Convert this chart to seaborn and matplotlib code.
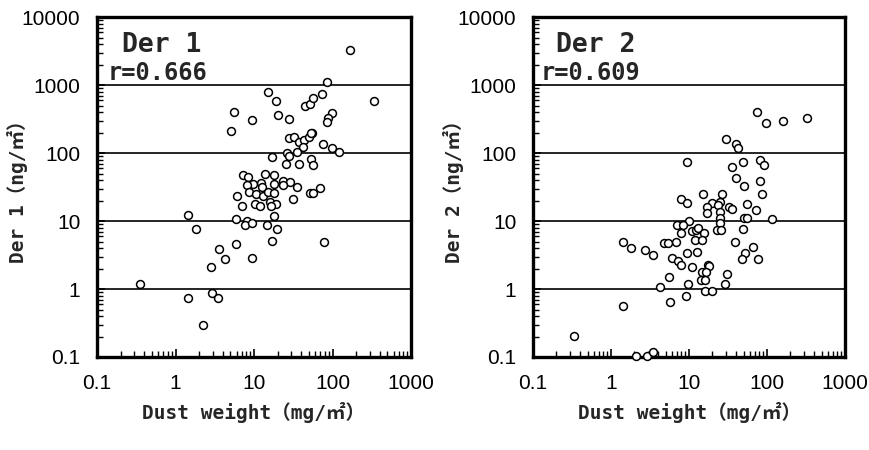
import numpy as np
import pandas as pd
import matplotlib
matplotlib.use("Agg")
import matplotlib.pyplot as plt
import seaborn as sns
from matplotlib.ticker import LogLocator, FixedLocator, FixedFormatter, NullFormatter

# ---- data ----
der1_dust = [15.2, 18.9, 5.56, 9.35, 20.4, 27.7, 5.14, 44.7, 51.6, 56, 167, 85.9, 74.1, 338,
             97.7, 88.3, 84.4, 54.3, 75, 97.7, 122, 69.3, 52, 56, 78,
             27.9, 32.4, 37.8, 43.4, 50.7, 53, 42.5, 35, 26.1, 27.9, 17.2, 53, 25.5, 37.8, 57,
             7.31, 8.3, 13.8, 18, 23.2, 28.8, 35.7, 23.2, 18, 12.3, 12.5, 9.8, 8.22, 8.7, 6.03,
             10.5, 12.9, 15.2, 18, 16, 19, 16.7, 10.2, 11.9, 6.96, 18.1, 31.7, 1.46, 1.82, 5.9,
             8.22, 7.6, 9.44, 14.5, 19.6, 17.1, 5.9, 3.61, 4.31, 9.44, 2.81, 0.353, 1.46, 2.92,
             3.47, 2.26]
der1_conc = [789, 587, 408, 305, 365, 318, 214, 500, 525, 643, 3311, 1119, 745, 587,
             386, 333, 285, 196, 136, 118, 105, 30.3, 25.6, 25.6, 4.95,
             169, 175, 148, 156, 171, 196, 124, 105, 99.6, 90.8, 88.7, 82, 69.2, 69.2, 66,
             47.6, 45, 49.3, 47.6, 39.3, 37.9, 32.1, 34, 35.1, 36, 32.1, 35.1, 34, 26.5, 23.6,
             25, 23.4, 27, 25.6, 19.2, 17.6, 16.6, 17.6, 16.8, 16.8, 11.9, 21.3, 12.2, 7.55, 10.6,
             10.1, 8.7, 9.25, 8.7, 7.55, 5.02, 4.58, 3.86, 2.75, 2.88, 2.12, 1.17, 0.75, 0.87,
             0.75, 0.30]

der2_dust = [29.8, 40.1, 42.9, 9.33, 48.8, 35.2, 40.1,
             75.2, 97, 162, 329,
             81.3, 91.6, 81.3, 50.7, 85.5, 55, 71.6, 50.7, 55.9, 115, 49.7, 65.6, 52.3, 47.4, 77.3,
             15, 26.2, 7.84, 9.33, 19.5, 24.9, 23.8, 16.9, 17.2, 32.9, 35.6, 24.9, 24.9, 24.9,
             23.1, 25.7, 10.1, 6.95, 8.45, 7.84, 11, 12.2, 13.2, 15.6, 11.9, 14.6, 6.75, 4.82,
             5.33, 38.9, 1.44, 1.79, 2.73, 3.43, 9.33, 12.6, 6, 7.3, 7.9, 10.9, 17.7, 18.2,
             14.6, 16.5, 30.4, 5.5, 14.3, 16.2, 9.7, 28.7, 4.25, 16.2, 19.5, 9.16, 5.76, 1.44,
             0.339, 2.09, 2.87, 3.43]
der2_conc = [160, 135, 118, 74.8, 74.8, 61.8, 42.6,
             404, 275, 301, 333,
             79.3, 67, 38.9, 33.1, 24.8, 17.6, 14.5, 11.2, 11.2, 10.6, 7.55, 4.14, 3.34, 2.75, 2.75,
             25, 25, 21.3, 18.2, 18.6, 19.2, 17.2, 15.9, 13, 16.3, 15, 13.7, 11.2, 9.25,
             7.36, 7.36, 10, 8.7, 8.7, 6.73, 7.2, 7.36, 7.8, 6.73, 5.25, 5.25, 4.95, 4.79,
             4.79, 4.95, 4.95, 4.03, 3.7, 3.15, 3.34, 3.53, 2.88, 2.57, 2.24, 2.12, 2.24, 2.17,
             1.79, 1.79, 1.66, 1.51, 1.35, 1.38, 1.17, 1.18, 1.06, 0.93, 0.93, 0.79, 0.65, 0.56,
             0.204, 0.103, 0.103, 0.119]

panel_names = ["Der 1", "Der 2"]
r_labels = ["r=0.666", "r=0.609"]
y_labels = ["Der 1（ng/㎡）", "Der 2（ng/㎡）"]
x_label = "Dust weight（mg/㎡）"
x_ticks = [0.1, 1, 10, 100, 1000]
x_ticklabels = ["0.1", "1", "10", "100", "1000"]
y_ticks = [0.1, 1, 10, 100, 1000, 10000]
y_ticklabels = ["0.1", "1", "10", "100", "1000", "10000"]

# ---- styling ----
sns.set_style("white")
plt.rcParams['font.family'] = ['Liberation Sans', 'DejaVu Sans']
gothic = ['DejaVu Sans Mono', 'Noto Sans CJK JP', 'DejaVu Sans']

fig = plt.figure(figsize=(8.69, 4.5), dpi=100)
W, H = 869, 450
ax1 = fig.add_axes([97 / W, 1 - 357 / H, 314 / W, 339.7 / H])
ax2 = fig.add_axes([533 / W, 1 - 357 / H, 312 / W, 339.7 / H])

frames = [pd.DataFrame({"dust": der1_dust, "conc": der1_conc}),
          pd.DataFrame({"dust": der2_dust, "conc": der2_conc})]
text_x = [(0.08, 0.035), (0.074, 0.026)]

for i, (ax, df) in enumerate(zip([ax1, ax2], frames)):
    ax.set_xscale("log")
    ax.set_yscale("log")
    ax.set_xlim(0.1, 1000)
    ax.set_ylim(0.1, 10000)
    ax.set_axisbelow(True)
    ax.yaxis.grid(True, which="major", color="black", linewidth=1.2)
    ax.xaxis.grid(False)
    sns.scatterplot(data=df, x="dust", y="conc", ax=ax, marker="o", s=32,
                    facecolor="white", edgecolor="black", linewidth=1.1,
                    clip_on=False, zorder=3, legend=False)
    for sp in ax.spines.values():
        sp.set_color("black")
        sp.set_linewidth(2.4)
        sp.set_visible(True)
    ax.xaxis.set_major_locator(FixedLocator(x_ticks))
    ax.xaxis.set_major_formatter(FixedFormatter(x_ticklabels))
    ax.yaxis.set_major_locator(FixedLocator(y_ticks))
    ax.yaxis.set_major_formatter(FixedFormatter(y_ticklabels))
    ax.xaxis.set_minor_locator(LogLocator(base=10, subs=np.arange(2, 10), numticks=20))
    ax.yaxis.set_minor_locator(LogLocator(base=10, subs=np.arange(2, 10), numticks=20))
    ax.xaxis.set_minor_formatter(NullFormatter())
    ax.yaxis.set_minor_formatter(NullFormatter())
    ax.tick_params(axis="both", which="major", direction="in", length=6, width=1.2,
                   labelsize=15, pad=12, colors="black", top=False, right=False,
                   bottom=True, left=True)
    ax.tick_params(axis="both", which="minor", direction="in", length=4.5, width=1.0,
                   top=False, right=False, bottom=True, left=True, colors="black")
    ax.set_xlabel(x_label, family=gothic, fontweight="bold", fontsize=14, labelpad=7)
    ax.set_ylabel(y_labels[i], family=gothic, fontweight="bold", fontsize=14)
    ax.yaxis.set_label_coords(-0.22, 0.5)
    ax.text(text_x[i][0], 0.918, panel_names[i], transform=ax.transAxes, family=gothic,
            fontweight="bold", fontsize=19, va="center", ha="left")
    ax.text(text_x[i][1], 0.802, r_labels[i], transform=ax.transAxes, family=gothic,
            fontweight="bold", fontsize=17, va="bottom", ha="left")

fig.savefig("out.png", dpi=100, facecolor="white")
